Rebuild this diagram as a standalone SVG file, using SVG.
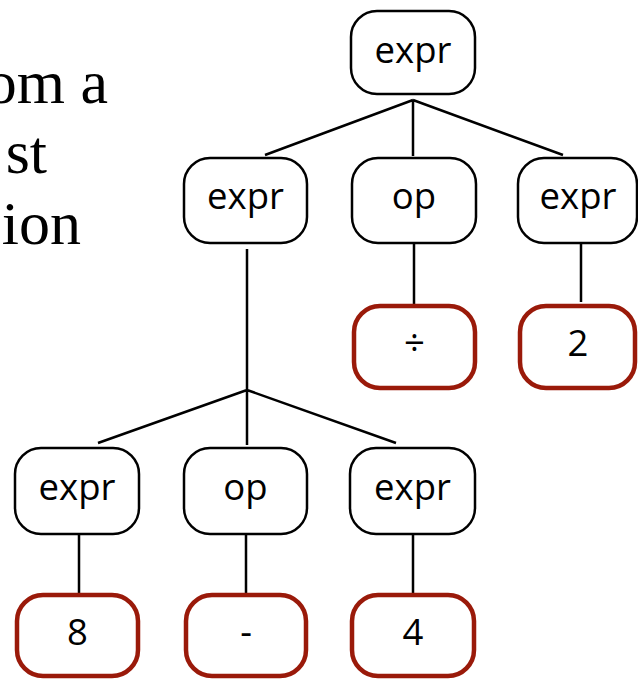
<svg xmlns="http://www.w3.org/2000/svg" width="638" height="679" viewBox="0 0 638 679">
<style>
.n{fill:#fff;stroke:#000;stroke-width:2.5}
.t{fill:#fff;stroke:#9a1a0a;stroke-width:4.5}
.l{font-family:"Open Sans","Noto Sans",sans-serif;font-size:36.5px;fill:#000;text-anchor:middle}
.s{font-family:"Liberation Serif","Times New Roman",serif;font-size:62px;fill:#000;text-anchor:end}
.c{stroke:#000;stroke-width:2.5;fill:none}
</style>
<rect width="638" height="679" fill="#fff"/>
<g id="caption">
<text class="s" x="108" y="103">om a</text>
<text class="s" x="47" y="173">st</text>
<text class="s" x="81" y="244">ion</text>
</g>
<g id="connectors">
<path class="c" d="M413 100L265 155M413 100V156M413 100L563 155"/>
<path class="c" d="M247 249V390M247 390L98 443M247 390V445M247 390L396 443"/>
<path class="c" d="M414 244V304M581 243V302"/>
<path class="c" d="M79 534V593M246 534V593M413 534V593"/>
</g>
<g id="root"><rect class="n" x="351" y="11" width="124" height="83" rx="26"/><text class="l" x="413" y="63">expr</text></g>
<g id="expr1"><rect class="n" x="184" y="158" width="123" height="85" rx="26"/><text class="l" x="245.5" y="209">expr</text></g>
<g id="op1"><rect class="n" x="352" y="158" width="124" height="85" rx="26"/><text class="l" x="414" y="209">op</text></g>
<g id="expr2"><rect class="n" x="518" y="158" width="119" height="85" rx="26"/><text class="l" x="578" y="209">expr</text></g>
<g id="div"><rect class="t" x="354" y="306" width="121" height="82" rx="26"/><text class="l" x="414.5" y="356">÷</text></g>
<g id="two"><rect class="t" x="520" y="306" width="115" height="82" rx="26"/><text class="l" x="578" y="356">2</text></g>
<g id="expr3"><rect class="n" x="15" y="448" width="124" height="86" rx="26"/><text class="l" x="77" y="500">expr</text></g>
<g id="op2"><rect class="n" x="184" y="448" width="123" height="86" rx="26"/><text class="l" x="245.5" y="500">op</text></g>
<g id="expr4"><rect class="n" x="350" y="448" width="125" height="86" rx="26"/><text class="l" x="412.5" y="500">expr</text></g>
<g id="eight"><rect class="t" x="17" y="595" width="121" height="81" rx="26"/><text class="l" x="77.5" y="645">8</text></g>
<g id="minus"><rect class="t" x="186" y="595" width="120" height="81" rx="26"/><text class="l" x="246" y="645">-</text></g>
<g id="four"><rect class="t" x="352" y="595" width="122" height="81" rx="26"/><text class="l" x="413" y="645">4</text></g>
</svg>
